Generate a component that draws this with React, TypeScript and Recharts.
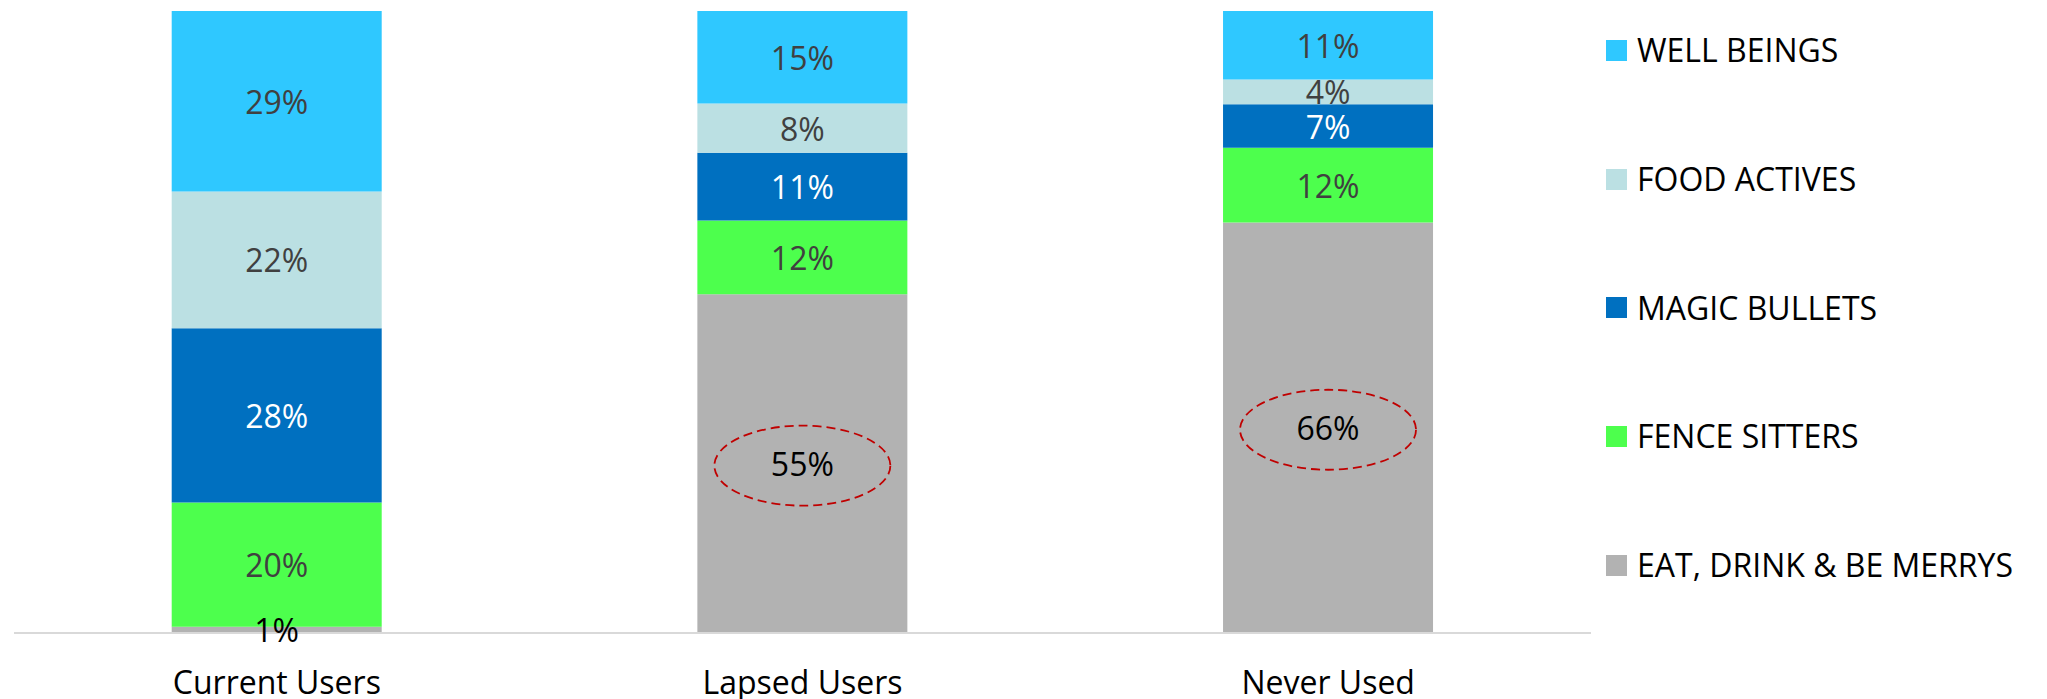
import { BarChart, Bar, XAxis, YAxis, LabelList, Legend } from 'recharts';

// Segment shares (%) per user group, bottom of the stack first
const categories = ['Current Users', 'Lapsed Users', 'Never Used'];
const eatDrinkMerry = [1, 55, 66];
const fenceSitters = [20, 12, 12];
const magicBullets = [28, 11, 7];
const foodActives = [22, 8, 4];
const wellBeings = [29, 15, 11];
// groups whose majority segment gets the dashed call-out ring
const ringedGroups = ['Lapsed Users', 'Never Used'];

const FONT = '"Open Sans", sans-serif';

const series = [
  { key: 'eatDrink', name: 'EAT, DRINK & BE MERRYS', values: eatDrinkMerry, color: '#B2B2B2', text: '#000000' },
  { key: 'fence', name: 'FENCE SITTERS', values: fenceSitters, color: '#4DFF4D', text: '#404040' },
  { key: 'magic', name: 'MAGIC BULLETS', values: magicBullets, color: '#0070C0', text: '#FFFFFF' },
  { key: 'food', name: 'FOOD ACTIVES', values: foodActives, color: '#BBE0E3', text: '#404040' },
  { key: 'well', name: 'WELL BEINGS', values: wellBeings, color: '#2FC8FF', text: '#404040' },
];

const data = categories.map((name, i) => {
  const row: Record<string, string | number> = { name };
  series.forEach((s) => {
    row[s.key] = s.values[i];
  });
  return row;
});

const makeLabel = (values: number[], color: string, ring: boolean) => (props: any) => {
  const { x, y, width, height, index } = props;
  const cx = Number(x) + Number(width) / 2;
  const cy = Number(y) + Number(height) / 2;
  const showRing = ring && ringedGroups.includes(categories[index]);
  return (
    <g>
      {showRing && (
        <ellipse
          cx={cx}
          cy={cy + 2}
          rx={88}
          ry={40}
          fill="none"
          stroke="#C00000"
          strokeWidth={1.8}
          strokeDasharray="9 5"
        />
      )}
      <text
        x={cx}
        y={cy}
        textAnchor="middle"
        dominantBaseline="central"
        fill={color}
        fontSize={32}
        fontFamily={FONT}
      >
        {values[index]}%
      </text>
    </g>
  );
};

const CategoryTick = ({ x, y, payload }: any) => (
  <text x={x} y={Number(y) + 59} textAnchor="middle" fill="#000000" fontSize={32} fontFamily={FONT}>
    {payload.value}
  </text>
);

// Legend reads top-down, reverse of the stack order
const LegendList = () => (
  <div style={{ fontFamily: FONT }}>
    {[...series].reverse().map((s) => (
      <div key={s.key} style={{ display: 'flex', alignItems: 'center', height: 128.7 }}>
        <div style={{ width: 21, height: 21, background: s.color, marginRight: 10 }} />
        <span style={{ fontSize: 32, lineHeight: '32px', color: '#000000', whiteSpace: 'nowrap' }}>{s.name}</span>
      </div>
    ))}
  </div>
);

export default function App() {
  return (
    <div style={{ position: 'absolute', left: 0, top: 0, width: 2047, height: 699, background: '#fff' }}>
      <BarChart
        width={2047}
        height={699}
        data={data}
        stackOffset="expand"
        barCategoryGap="30%"
        margin={{ top: 11, right: 456, bottom: 6, left: 14 }}
      >
        <XAxis
          dataKey="name"
          axisLine={{ stroke: '#D9D9D9', strokeWidth: 2 }}
          tickLine={false}
          tickSize={0}
          height={60}
          interval={0}
          tick={<CategoryTick />}
        />
        <YAxis hide domain={[0, 1]} />
        <Legend
          layout="horizontal"
          align="center"
          verticalAlign="middle"
          content={<LegendList />}
          wrapperStyle={{ left: 1606, top: -14, width: 440, height: 650 }}
        />
        {series.map((s) => (
          <Bar
            key={s.key}
            dataKey={s.key}
            name={s.name}
            stackId="share"
            fill={s.color}
            isAnimationActive={false}
          >
            <LabelList dataKey={s.key} content={makeLabel(s.values, s.text, s.key === 'eatDrink')} />
          </Bar>
        ))}
      </BarChart>
    </div>
  );
}
